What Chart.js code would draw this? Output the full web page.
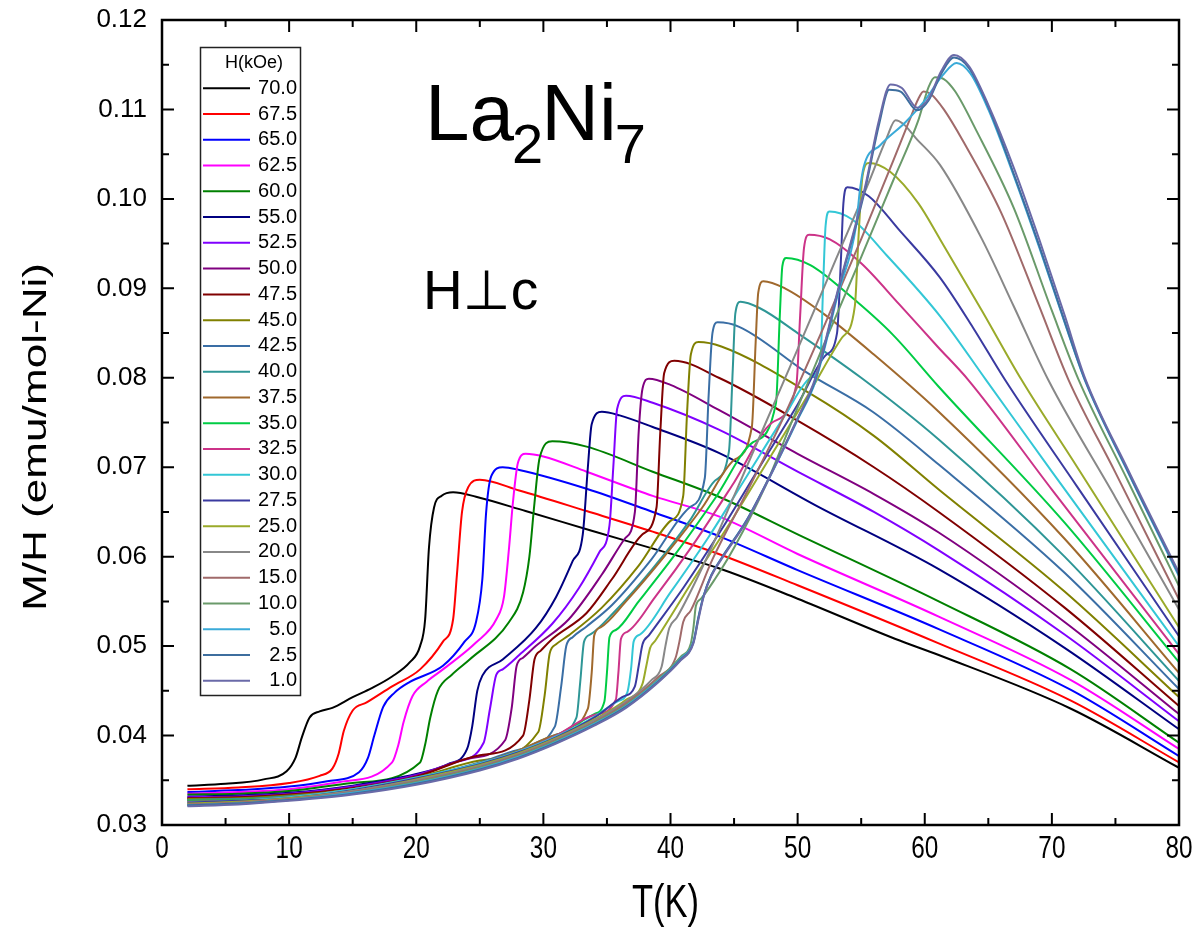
<!DOCTYPE html>
<html>
<head>
<meta charset="utf-8">
<script src="https://cdn.jsdelivr.net/npm/chart.js@4.4.1/dist/chart.umd.min.js"></script>
<style>
  html, body { margin: 0; padding: 0; background: #fff; }
  canvas { display: block; }
</style>
</head>
<body>
<canvas id="chart" width="1203" height="938"></canvas>
<script>
'use strict';

// H (kOe) of each curve, same order as the legend
const fields = ['70.0', '67.5', '65.0', '62.5', '60.0', '55.0', '52.5', '50.0', '47.5', '45.0', '42.5', '40.0',
  '37.5', '35.0', '32.5', '30.0', '27.5', '25.0', '20.0', '15.0', '10.0', '5.0', '2.5', '1.0'];

// [T (K), M/H (emu/mol-Ni)]
const h700 = [[2,0.0344],[5,0.0346],[8,0.0351],[9.8,0.0360],[10.5,0.0375],[11.0,0.0398],[11.6,0.0420],[12.4,0.0427],[13.4,0.0431],[15,0.0443],[16.5,0.0453],[18.1,0.0466],[19.5,0.0482],[20.3,0.0500],[20.7,0.0530],[21.0,0.0610],[21.4,0.0655],[22,0.0668],[22.9,0.0672],[24.7,0.0667],[28.6,0.0651],[33.8,0.0629],[39.1,0.0607],[43.8,0.0587],[50,0.0553],[57.7,0.0508],[61.1,0.0490],[71.5,0.0430],[80,0.0364]];
const h675 = [[2,0.0340],[6,0.0342],[10,0.0347],[12.4,0.0355],[13.4,0.0363],[13.9,0.0380],[14.3,0.0405],[15,0.0428],[16.1,0.0437],[18.1,0.0455],[20.3,0.0474],[22.1,0.0505],[22.9,0.0530],[23.2,0.0580],[23.6,0.0650],[24.1,0.0678],[25,0.0686],[28.1,0.0674],[33.4,0.0651],[38.6,0.0628],[43.8,0.0603],[50,0.0568],[61.1,0.0503],[71.5,0.0439],[80,0.0370]];
const h650 = [[2,0.0337],[6,0.0339],[10,0.0343],[13,0.0349],[15.5,0.0359],[16.2,0.0375],[16.7,0.0400],[17.4,0.0432],[18.3,0.0448],[19.5,0.0460],[22.1,0.0478],[23.8,0.0505],[24.7,0.0527],[25.2,0.0575],[25.5,0.0650],[25.9,0.0690],[26.8,0.0700],[28.1,0.0697],[33.4,0.0676],[38.6,0.0650],[43.8,0.0623],[50,0.0585],[61.1,0.0519],[71.5,0.0451],[80,0.0377]];
const h625 = [[2,0.0335],[6,0.0337],[10,0.0340],[14,0.0348],[18.1,0.0370],[18.6,0.0390],[19.0,0.0415],[19.7,0.0444],[20.8,0.0460],[22.1,0.0474],[24.7,0.0504],[26.3,0.0530],[26.9,0.0555],[27.3,0.0610],[27.6,0.0660],[28,0.0705],[28.6,0.0715],[30,0.0712],[33.4,0.0695],[38.6,0.0668],[43.8,0.0645],[50,0.0603],[61.1,0.0533],[71.5,0.0462],[80,0.0385]];
const h600 = [[2,0.0334],[6,0.0335],[10,0.0338],[15,0.0347],[20.3,0.0370],[20.7,0.0390],[21.1,0.0420],[21.7,0.0450],[22.8,0.0468],[24.2,0.0485],[27.3,0.0527],[28.4,0.0560],[28.9,0.0600],[29.3,0.0660],[29.7,0.0710],[30.7,0.0729],[33.4,0.0723],[38.6,0.0695],[43.8,0.0667],[50,0.0625],[61.1,0.0550],[71.5,0.0474],[80,0.0392]];
const h550 = [[2,0.0332],[6,0.0333],[10,0.0336],[15,0.0344],[20,0.0357],[22.5,0.0368],[24.0,0.0385],[24.4,0.0410],[24.8,0.0450],[25.2,0.0467],[26.8,0.0485],[29.4,0.0520],[31,0.0555],[32.3,0.0595],[33.1,0.0625],[33.5,0.0700],[33.8,0.0748],[34.6,0.0762],[36,0.0758],[38.6,0.0745],[43.8,0.0716],[51.6,0.0656],[61.1,0.0586],[71,0.0498],[80,0.0407]];
const h525 = [[2,0.0331],[6,0.0332],[10,0.0335],[15,0.0343],[20,0.0356],[23,0.0370],[25.3,0.0392],[25.8,0.0430],[26.3,0.0468],[26.8,0.0474],[28.1,0.0490],[30.7,0.0525],[32.8,0.0565],[34.4,0.0605],[35.2,0.0635],[35.5,0.0700],[35.8,0.0765],[36.5,0.0780],[38.6,0.0772],[43.8,0.0742],[50,0.0695],[56,0.0650],[61.1,0.0607],[71,0.0513],[80,0.0416]];
const h500 = [[2,0.0330],[6,0.0331],[10,0.0334],[15,0.0342],[20,0.0355],[24,0.0374],[27,0.0395],[27.5,0.0430],[27.9,0.0478],[28.4,0.0487],[29.4,0.0500],[32,0.0530],[34.6,0.0580],[36.4,0.0620],[37.2,0.0650],[37.5,0.0740],[37.8,0.0788],[38.3,0.0799],[40,0.0792],[43.8,0.0764],[50,0.0715],[56,0.0670],[61.1,0.0627],[71,0.0527],[80,0.0424]];
const h475 = [[2,0.0330],[6,0.0331],[10,0.0334],[15,0.0341],[20,0.0354],[25,0.0378],[28.4,0.0400],[28.9,0.0440],[29.3,0.0485],[29.8,0.0495],[30.7,0.0508],[33.4,0.0537],[35.4,0.0575],[37.8,0.0625],[38.9,0.0655],[39.2,0.0740],[39.5,0.0805],[40.3,0.0819],[43.8,0.0800],[50,0.0752],[56,0.0700],[61.1,0.0650],[71,0.0543],[80,0.0433]];
const h450 = [[2,0.0329],[6,0.0330],[10,0.0333],[15,0.0340],[20,0.0353],[25,0.0372],[29.6,0.0404],[30.1,0.0445],[30.5,0.0492],[31,0.0502],[32,0.0512],[34.6,0.0543],[37.5,0.0590],[40,0.0640],[41,0.0668],[41.3,0.0760],[41.6,0.0826],[42.2,0.0840],[44,0.0835],[50.9,0.0783],[56,0.0735],[61.1,0.0675],[71,0.0561],[80,0.0443]];
const h425 = [[2,0.0328],[6,0.0329],[10,0.0332],[15,0.0339],[20,0.0352],[25,0.0370],[28,0.0384],[30.9,0.0410],[31.4,0.0455],[31.8,0.0500],[32.3,0.0510],[33.4,0.0522],[35.4,0.0546],[38.5,0.0597],[41.5,0.0655],[42.7,0.0688],[43.0,0.0780],[43.3,0.0850],[43.7,0.0862],[45.4,0.0857],[50.7,0.0806],[55.9,0.0762],[61.1,0.0703],[71,0.0582],[80,0.0452]];
const h400 = [[2,0.0328],[6,0.0329],[10,0.0332],[15,0.0339],[20,0.0351],[25,0.0369],[28,0.0383],[31,0.0401],[32.6,0.0420],[32.9,0.0460],[33.2,0.0505],[33.7,0.0513],[35.5,0.0537],[38.5,0.0585],[41.5,0.0640],[43.5,0.0685],[44.6,0.0718],[44.9,0.0810],[45.1,0.0872],[45.5,0.0885],[47,0.0878],[50,0.0850],[55,0.0800],[61.1,0.0731],[71,0.0600],[80,0.0461]];
const h375 = [[2,0.0327],[6,0.0328],[10,0.0331],[15,0.0339],[20,0.0351],[25,0.0369],[28,0.0383],[31,0.0401],[33.5,0.0430],[33.8,0.0470],[34.0,0.0512],[34.5,0.0521],[36.5,0.0550],[39.5,0.0600],[42.5,0.0655],[45,0.0708],[46.4,0.0745],[46.7,0.0840],[46.9,0.0895],[47.3,0.0908],[49,0.0900],[52,0.0872],[56,0.0826],[61.1,0.0762],[71,0.0620],[80,0.0470]];
const h350 = [[2,0.0327],[6,0.0328],[10,0.0331],[15,0.0340],[20,0.0352],[25,0.0369],[28,0.0382],[31,0.0400],[34,0.0424],[34.8,0.0438],[35.0,0.0470],[35.2,0.0510],[35.7,0.0518],[37.5,0.0550],[40.5,0.0605],[43.5,0.0665],[46.5,0.0728],[48.3,0.0772],[48.6,0.0870],[48.8,0.0925],[49.1,0.0934],[51,0.0926],[54,0.0893],[57.5,0.0848],[61.1,0.0790],[71,0.0638],[80,0.0482]];
const h325 = [[2,0.0326],[6,0.0327],[10,0.0331],[15,0.0340],[20,0.0352],[25,0.0369],[28,0.0382],[31,0.0400],[34,0.0423],[35.7,0.0440],[35.9,0.0470],[36.1,0.0508],[36.6,0.0516],[38.8,0.0555],[42,0.0618],[45,0.0683],[48,0.0750],[49.9,0.0792],[50.2,0.0870],[50.5,0.0945],[50.9,0.0960],[52.5,0.0955],[55,0.0928],[58,0.0882],[61,0.0835],[63.4,0.0798],[70,0.0675],[80,0.0491]];
const h300 = [[2,0.0325],[6,0.0327],[10,0.0331],[15,0.0340],[20,0.0353],[25,0.0369],[28,0.0382],[31,0.0399],[34,0.0421],[35.8,0.0438],[36.6,0.0448],[36.9,0.0475],[37.1,0.0505],[37.6,0.0513],[40,0.0560],[43,0.0622],[46,0.0690],[49,0.0758],[51,0.0800],[51.8,0.0822],[52.0,0.0900],[52.2,0.0970],[52.5,0.0986],[54.3,0.0977],[57,0.0937],[61.2,0.0869],[64.8,0.0798],[70,0.0695],[80,0.0500]];
const h275 = [[2,0.0325],[6,0.0327],[10,0.0330],[15,0.0339],[20,0.0352],[25,0.0368],[28,0.0381],[31,0.0398],[34,0.0420],[36.2,0.0443],[37.2,0.0455],[37.5,0.0478],[37.8,0.0502],[38.3,0.0512],[41,0.0565],[44,0.0630],[47,0.0700],[50,0.0770],[52.2,0.0825],[53.1,0.0850],[53.4,0.0930],[53.6,0.0995],[53.9,0.1013],[55.6,0.1003],[58,0.0965],[61.2,0.0912],[63.8,0.0856],[66.3,0.0798],[72,0.0678],[80,0.0511]];
const h250 = [[2,0.0324],[6,0.0326],[10,0.0330],[15,0.0338],[20,0.0351],[25,0.0367],[28,0.0380],[31,0.0397],[34,0.0418],[36.5,0.0440],[37.8,0.0458],[38.1,0.0478],[38.4,0.0498],[38.8,0.0506],[41.7,0.0572],[45,0.0645],[48,0.0715],[51,0.0785],[53.5,0.0845],[54.5,0.0880],[54.8,0.0960],[55.1,0.1025],[55.6,0.1040],[57.3,0.1030],[59.5,0.0995],[61.2,0.0955],[64.5,0.0875],[67.6,0.0798],[72,0.0700],[80,0.0521]];
const h200 = [[2,0.0323],[6,0.0325],[10,0.0329],[15,0.0338],[20,0.0350],[25,0.0366],[28,0.0379],[31,0.0396],[34,0.0417],[36.5,0.0438],[38.5,0.0462],[39.3,0.0477],[39.6,0.0500],[39.9,0.0520],[40.5,0.0532],[42.8,0.0597],[45,0.0668],[47.5,0.0750],[50,0.0832],[53,0.0932],[55.5,0.1015],[57.0,0.1068],[57.7,0.1088],[58.3,0.1084],[59.3,0.1068],[61.2,0.1038],[64.5,0.0955],[67,0.0880],[69.7,0.0798],[75,0.0666],[80,0.0541]];
const h150 = [[2,0.0323],[6,0.0325],[10,0.0329],[15,0.0337],[20,0.0349],[25,0.0365],[28,0.0378],[31,0.0395],[34,0.0415],[36.5,0.0436],[39,0.0465],[40.4,0.0487],[40.7,0.0505],[41.0,0.0527],[41.6,0.0540],[43.3,0.0597],[46,0.0672],[48.8,0.0753],[52,0.0855],[55,0.0955],[57.5,0.1042],[58.8,0.1088],[59.5,0.1112],[59.9,0.1120],[60.5,0.1117],[61.5,0.1100],[63,0.1065],[66,0.0985],[69,0.0880],[71.3,0.0798],[75,0.0694],[80,0.0552]];
const h100 = [[2,0.0322],[6,0.0324],[10,0.0328],[15,0.0336],[20,0.0348],[25,0.0364],[28,0.0377],[31,0.0394],[34,0.0414],[36.5,0.0434],[39,0.0462],[40.8,0.0488],[41.6,0.0503],[41.8,0.0520],[42.0,0.0545],[42.4,0.0553],[43.5,0.0575],[45,0.0610],[47.5,0.0680],[49.6,0.0753],[52,0.0835],[55,0.0935],[57.5,0.1020],[59.5,0.1088],[60.3,0.1125],[60.8,0.1136],[61.5,0.1134],[62.4,0.1120],[64,0.1078],[67,0.0990],[70,0.0875],[72.1,0.0798],[76,0.0684],[80,0.0567]];
const h050 = [[2,0.0322],[6,0.0324],[10,0.0328],[15,0.0336],[20,0.0347],[25,0.0363],[28,0.0376],[31,0.0393],[34,0.0413],[36.5,0.0433],[39,0.0461],[40.8,0.0486],[41.8,0.0505],[42.2,0.0533],[42.6,0.0556],[43.2,0.0579],[44,0.0598],[46,0.0641],[47.7,0.0686],[50,0.0753],[51.4,0.0796],[53.2,0.0895],[54.6,0.0970],[54.9,0.1010],[55.2,0.1036],[56.5,0.1060],[58.5,0.1086],[60,0.1110],[61.4,0.1138],[62.5,0.1152],[63.6,0.1140],[65,0.1100],[67,0.1026],[69,0.0946],[71,0.0862],[72.6,0.0797],[76,0.0694],[80,0.0578]];
const h025 = [[2,0.0322],[6,0.0324],[10,0.0328],[15,0.0335],[20,0.0346],[25,0.0362],[28,0.0375],[31,0.0392],[34,0.0412],[36.5,0.0432],[39,0.0460],[40.8,0.0485],[41.8,0.0504],[42.2,0.0532],[42.6,0.0556],[43.2,0.0579],[44,0.0598],[46,0.0641],[47.7,0.0687],[50,0.0754],[51.4,0.0798],[53.2,0.0898],[55.3,0.1010],[56.4,0.1083],[57.2,0.1122],[58.1,0.1120],[59.4,0.1099],[60.3,0.1110],[61.3,0.1140],[62.3,0.1158],[63.5,0.1146],[65,0.1103],[67,0.1028],[69,0.0948],[71,0.0863],[72.6,0.0798],[76,0.0695],[80,0.0580]];
const h010 = [[2,0.0321],[6,0.0323],[10,0.0327],[15,0.0334],[20,0.0345],[25,0.0361],[28,0.0374],[31,0.0391],[34,0.0411],[36.5,0.0431],[39,0.0459],[40.8,0.0484],[41.8,0.0503],[42.2,0.0530],[42.6,0.0555],[43.2,0.0578],[44,0.0597],[46,0.0640],[47.7,0.0686],[50,0.0755],[51.4,0.0800],[53.2,0.0900],[55.3,0.1013],[56.4,0.1088],[57.3,0.1128],[58.2,0.1124],[59.4,0.1102],[60.3,0.1112],[61.3,0.1143],[62.3,0.1161],[63.5,0.1148],[65,0.1105],[67,0.1035],[69,0.0955],[71,0.0870],[72.6,0.0800],[76,0.0697],[80,0.0582]];

const series = [h700, h675, h650, h625, h600, h550, h525, h500, h475, h450, h425, h400,
  h375, h350, h325, h300, h275, h250, h200, h150, h100, h050, h025, h010];

const colors = ['#000000', '#ff0000', '#0000ff', '#ff00ff', '#008000', '#000080', '#8000ff', '#800080',
  '#800000', '#808000', '#3a6ea5', '#2e9696', '#a0692d', '#00cc44', '#cc3388', '#33c7d6',
  '#3a3aa0', '#9aaa2a', '#888888', '#a06a6a', '#6a9a6a', '#3aaad8', '#3d6e9e', '#6a6aa8'];

const FONT = "'Liberation Sans', Arial, sans-serif";

// frame, inward ticks, tick labels, titles and legend
const decorations = {
  id: 'decorations',
  afterDraw(chart) {
    const ctx = chart.ctx;
    const a = chart.chartArea;
    const xs = chart.scales.x;
    const ys = chart.scales.y;
    const xt = xs.ticks.map(t => t.value);
    const yt = ys.ticks.map(t => t.value);

    ctx.save();
    ctx.strokeStyle = '#000';
    ctx.lineWidth = 2;
    ctx.beginPath();
    xt.forEach((v, i) => {
      const p = xs.getPixelForValue(v);
      ctx.moveTo(p, a.bottom); ctx.lineTo(p, a.bottom - 12);
      ctx.moveTo(p, a.top); ctx.lineTo(p, a.top + 12);
      if (i < xt.length - 1) {
        const m = xs.getPixelForValue((v + xt[i + 1]) / 2);
        ctx.moveTo(m, a.bottom); ctx.lineTo(m, a.bottom - 7);
        ctx.moveTo(m, a.top); ctx.lineTo(m, a.top + 7);
      }
    });
    yt.forEach((v, i) => {
      const p = ys.getPixelForValue(v);
      ctx.moveTo(a.left, p); ctx.lineTo(a.left + 12, p);
      ctx.moveTo(a.right, p); ctx.lineTo(a.right - 12, p);
      if (i < yt.length - 1) {
        const m = ys.getPixelForValue((v + yt[i + 1]) / 2);
        ctx.moveTo(a.left, m); ctx.lineTo(a.left + 7, m);
        ctx.moveTo(a.right, m); ctx.lineTo(a.right - 7, m);
      }
    });
    ctx.stroke();
    ctx.lineWidth = 2.5;
    ctx.strokeRect(a.left, a.top, a.right - a.left, a.bottom - a.top);

    ctx.fillStyle = '#000';
    // y tick labels
    ctx.font = '26px ' + FONT;
    ctx.textAlign = 'right';
    ctx.textBaseline = 'middle';
    yt.forEach(v => ctx.fillText(v.toFixed(2), a.left - 15, ys.getPixelForValue(v)));

    // x tick labels (narrow, tall)
    ctx.font = '32px ' + FONT;
    ctx.textAlign = 'center';
    xt.forEach(v => {
      ctx.save();
      ctx.translate(xs.getPixelForValue(v), a.bottom + 24);
      ctx.scale(0.76, 1);
      ctx.fillText(String(v), 0, 0);
      ctx.restore();
    });

    // axis titles
    ctx.save();
    ctx.font = '46px ' + FONT;
    ctx.translate((a.left + a.right) / 2 - 5, 904);
    ctx.scale(0.75, 1);
    ctx.fillText('T(K)', 0, 0);
    ctx.restore();

    ctx.save();
    ctx.font = '34px ' + FONT;
    const yTitle = 'M/H (emu/mol-Ni)';
    const w = ctx.measureText(yTitle).width;
    ctx.translate(37, 437);
    ctx.rotate(-Math.PI / 2);
    ctx.scale(348 / w, 1);
    ctx.fillText(yTitle, 0, 0);
    ctx.restore();

    // compound label La2Ni7
    ctx.textAlign = 'left';
    ctx.textBaseline = 'alphabetic';
    let x = 425;
    [['La', 80, 140], ['2', 56, 163], ['Ni', 80, 140], ['7', 56, 163]].forEach(([s, size, base]) => {
      ctx.font = size + 'px ' + FONT;
      ctx.fillText(s, x, base);
      x += ctx.measureText(s).width - 2;
    });
    ctx.font = "55px 'Liberation Sans', 'DejaVu Sans', sans-serif";
    ctx.fillText('H\u22A5c', 423, 309);

    // legend
    const lx = 200, ly = 47, lw = 100, lh = 648;
    ctx.fillStyle = '#fff';
    ctx.fillRect(lx, ly, lw, lh);
    ctx.strokeStyle = '#222';
    ctx.lineWidth = 1.5;
    ctx.strokeRect(lx + 0.5, ly + 0.5, lw, lh);
    ctx.fillStyle = '#000';
    ctx.font = '18px ' + FONT;
    ctx.textAlign = 'center';
    ctx.textBaseline = 'middle';
    ctx.fillText('H(kOe)', 254, 63);
    ctx.font = '20px ' + FONT;
    ctx.textAlign = 'right';
    chart.data.datasets.forEach((ds, i) => {
      const y = 88.3 + i * 25.76;
      ctx.strokeStyle = ds.borderColor;
      ctx.lineWidth = 2;
      ctx.beginPath();
      ctx.moveTo(203, y);
      ctx.lineTo(250, y);
      ctx.stroke();
      ctx.fillText(ds.label, 297, y);
    });
    ctx.restore();
  }
};

new Chart(document.getElementById('chart'), {
  type: 'line',
  data: {
    datasets: series.map((s, i) => ({
      label: fields[i],
      data: s.map(p => ({ x: p[0], y: p[1] })),
      borderColor: colors[i],
      borderWidth: 2,
      pointRadius: 0,
      fill: false,
      cubicInterpolationMode: 'monotone',
      order: series.length - i
    }))
  },
  options: {
    responsive: false,
    animation: false,
    devicePixelRatio: 1,
    layout: { padding: { top: 20, right: 24, left: 0, bottom: 0 } },
    plugins: { legend: { display: false }, tooltip: { enabled: false } },
    scales: {
      x: {
        type: 'linear', min: 0, max: 80,
        ticks: { stepSize: 10, display: false },
        grid: { display: false }, border: { display: false },
        afterFit(s) { s.height = 113; }
      },
      y: {
        type: 'linear', min: 0.03, max: 0.12,
        ticks: { stepSize: 0.01, display: false },
        grid: { display: false }, border: { display: false },
        afterFit(s) { s.width = 162; }
      }
    }
  },
  plugins: [decorations]
});
</script>
</body>
</html>
